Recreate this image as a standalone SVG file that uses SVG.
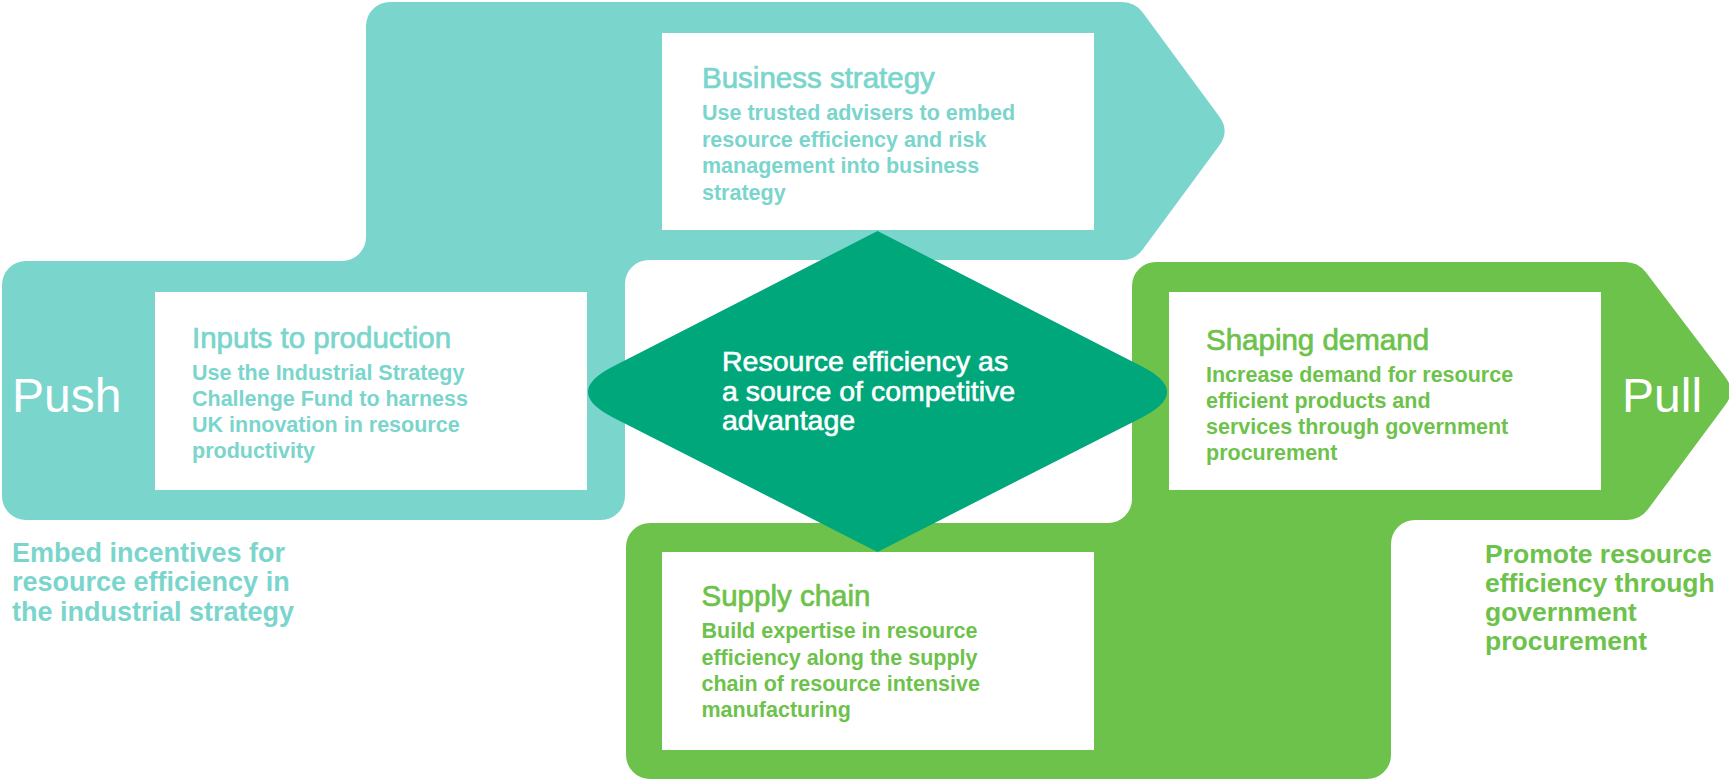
<svg xmlns="http://www.w3.org/2000/svg" width="1729" height="782" viewBox="0 0 1729 782">
<style>
text{font-family:"Liberation Sans",Arial,sans-serif}
.box{fill:#ffffff}
.h{font-size:29.5px;stroke-width:0.7px}
.b{font-size:21.5px;font-weight:bold}
.t{fill:#7AD5CC}
.g{fill:#6DC24B}
.h.t{stroke:#7AD5CC}
.h.g{stroke:#6DC24B}
.big{font-size:48px;fill:#ffffff}
.cap{font-size:27px;font-weight:bold}
.dia{font-size:28.5px;fill:#ffffff;stroke:#ffffff;stroke-width:0.6px}
</style>
<rect width="1729" height="782" fill="#ffffff"/>
<g id="bands">
<path id="push-band" fill="#7AD5CC" d="M390,2 H1122 Q1135,2 1142.7,12.5 L1219.3,116.5 Q1230,131 1219.3,145.5 L1142.7,249.5 Q1135,260 1122,260 H649 A24 24 0 0 0 625,284 V496 A24 24 0 0 1 601,520 H26 A24 24 0 0 1 2,496 V285 A24 24 0 0 1 26,261 H342 A24 24 0 0 0 366,237 V26 A24 24 0 0 1 390,2 Z"/>
<path id="pull-band" fill="#6DC24B" d="M1156,262 H1625 Q1638,262 1645.9,272.3 L1725.1,376.7 Q1736,391 1725.1,405.3 L1647.8,509.6 Q1640,520 1627,520 H1415 A24 24 0 0 0 1391,544 V755 A24 24 0 0 1 1367,779 H650 A24 24 0 0 1 626,755 V547 A24 24 0 0 1 650,523 H1108 A24 24 0 0 0 1132,499 V286 A24 24 0 0 1 1156,262 Z"/>
</g>
<g id="connectors"></g>
<g id="business-strategy">
<rect class="box" x="662" y="33" width="432" height="197"/>
<text class="h t" x="702" y="87.5">Business strategy</text>
<text class="b t" x="702" y="120">Use trusted advisers to embed</text>
<text class="b t" x="702" y="146.5">resource efficiency and risk</text>
<text class="b t" x="702" y="173">management into business</text>
<text class="b t" x="702" y="199.5">strategy</text>
</g>
<g id="inputs-to-production">
<rect class="box" x="155" y="292" width="432" height="198"/>
<text class="h t" x="192" y="348">Inputs to production</text>
<text class="b t" x="192" y="380">Use the Industrial Strategy</text>
<text class="b t" x="192" y="406">Challenge Fund to harness</text>
<text class="b t" x="192" y="432">UK innovation in resource</text>
<text class="b t" x="192" y="458">productivity</text>
</g>
<g id="shaping-demand">
<rect class="box" x="1169" y="292" width="432" height="198"/>
<text class="h g" x="1206" y="350">Shaping demand</text>
<text class="b g" x="1206" y="382">Increase demand for resource</text>
<text class="b g" x="1206" y="408">efficient products and</text>
<text class="b g" x="1206" y="434">services through government</text>
<text class="b g" x="1206" y="459.5">procurement</text>
</g>
<g id="supply-chain">
<rect class="box" x="662" y="552" width="432" height="198"/>
<text class="h g" x="701.5" y="606">Supply chain</text>
<text class="b g" x="701.5" y="638">Build expertise in resource</text>
<text class="b g" x="701.5" y="665">efficiency along the supply</text>
<text class="b g" x="701.5" y="691">chain of resource intensive</text>
<text class="b g" x="701.5" y="717">manufacturing</text>
</g>
<g id="core">
<path fill="#00A77B" d="M877.5,231 L613,366.6 Q563,392 613,417.4 L877.5,552 L1142,417.4 Q1192,392 1142,366.6 Z"/>
<text class="dia" x="722" y="371">Resource efficiency as</text>
<text class="dia" x="722" y="401">a source of competitive</text>
<text class="dia" x="722" y="430">advantage</text>
</g>
<g id="push">
<text class="big" x="12" y="412">Push</text>
</g>
<g id="pull">
<text class="big" x="1622" y="412">Pull</text>
</g>
<g id="push-caption">
<text class="cap t" x="12" y="562">Embed incentives for</text>
<text class="cap t" x="12" y="591">resource efficiency in</text>
<text class="cap t" x="12" y="621">the industrial strategy</text>
</g>
<g id="pull-caption">
<text class="cap g" x="1485" y="563" style="font-size:26.5px">Promote resource</text>
<text class="cap g" x="1485" y="592" style="font-size:26.5px">efficiency through</text>
<text class="cap g" x="1485" y="621" style="font-size:26.5px">government</text>
<text class="cap g" x="1485" y="650" style="font-size:26.5px">procurement</text>
</g>
</svg>
